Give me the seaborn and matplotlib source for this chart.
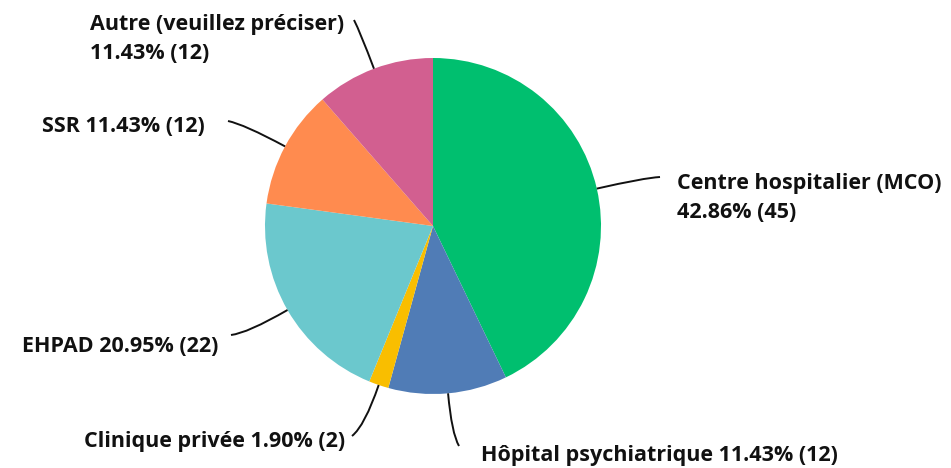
import numpy as np
import matplotlib
matplotlib.use("Agg")
import matplotlib.pyplot as plt
from matplotlib.path import Path
from matplotlib.patches import PathPatch
import seaborn as sns

sns.set_theme(style="white")
plt.rcParams['font.family'] = ['Open Sans', 'DejaVu Sans']

categories = ["Centre hospitalier (MCO)", "Hôpital psychiatrique", "Clinique privée",
              "EHPAD", "SSR", "Autre (veuillez préciser)"]
counts = [45, 12, 2, 22, 12, 12]
percents = ["42.86%", "11.43%", "1.90%", "20.95%", "11.43%", "11.43%"]
colors = ["#00BF6F", "#507CB6", "#F9BE00", "#6BC8CD", "#FF8B4F", "#D25F90"]

W, H = 951, 468
fig = plt.figure(figsize=(W / 100, H / 100), dpi=100)
ax = fig.add_axes([0, 0, 1, 1])

cx, cy, R = 433, H - 226, 168
wedges, _ = ax.pie(counts, colors=colors, startangle=90, counterclock=False,
                   center=(cx, cy), radius=R, frame=True,
                   wedgeprops=dict(linewidth=0))
ax.set_xlim(0, W)
ax.set_ylim(0, H)
ax.set_aspect('equal')
ax.axis('off')

# label layout: (line end x, y in image px), text x, text y, ha, two lines?
layout = [
    ((660, 177), 677, 198, 'left', True),
    ((459, 446), 481, 455, 'left', False),
    ((352, 436), 345, 441, 'right', False),
    ((231, 335), 218, 347, 'right', False),
    ((228, 121), 205, 126, 'right', False),
    ((354, 20), 90, 39, 'left', True),
]

for w, cat, pct, n, (end, tx, ty, ha, two) in zip(wedges, categories, percents, counts, layout):
    ang = np.deg2rad((w.theta1 + w.theta2) / 2)
    d = np.array([np.cos(ang), np.sin(ang)])
    start = np.array([cx, cy]) + R * d
    endp = np.array([end[0], H - end[1]])
    dist = np.linalg.norm(endp - start)
    ctrl = start + d * dist * 0.75
    path = Path([start, ctrl, endp], [Path.MOVETO, Path.CURVE3, Path.CURVE3])
    ax.add_patch(PathPatch(path, fill=False, edgecolor='#111111', lw=1.4))
    sep = "\n" if two else " "
    ax.text(tx, H - ty, f"{cat}{sep}{pct} ({n})", ha=ha, va='center',
            fontsize=15.5, fontweight='bold', color='#111111', linespacing=1.45)

fig.savefig("out.png", dpi=100)
